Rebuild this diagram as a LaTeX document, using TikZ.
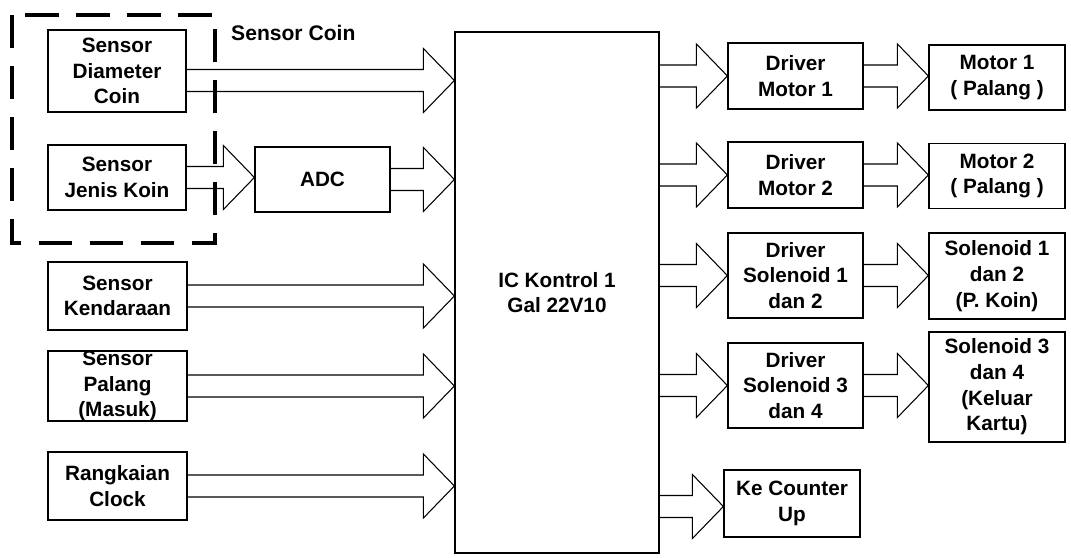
\documentclass[tikz,border=0pt]{standalone}
\usepackage{fontspec}
\setmainfont{Liberation Sans}
\usepackage{tikz}
\usetikzlibrary{calc}

\newcommand{\fatarrow}[2]{%
  \draw[fat] let \p1=(#1), \p2=(#2) in
    (\x1,\y1+0.22cm) -- (\x2-0.62cm,\y1+0.22cm) -- (\x2-0.62cm,\y1+0.64cm)
    -- (\x2,\y1) -- (\x2-0.62cm,\y1-0.64cm) -- (\x2-0.62cm,\y1-0.22cm) -- (\x1,\y1-0.22cm);}

\begin{document}
\begin{tikzpicture}[
  box/.style={draw, line width=0.7pt, inner sep=0pt, align=center,
    font=\fontsize{11.8}{14.6}\selectfont\bfseries},
  fat/.style={draw, line width=0.6pt}]
\useasboundingbox (0,0) rectangle (21.42,11.14);

\draw[line width=2.8pt, dash pattern=on 19pt off 10pt] (0.24,10.84) rectangle (4.30,6.28);
\node[anchor=west, font=\fontsize{12}{14}\selectfont\bfseries] (coin) at (4.50,10.48) {Sensor Coin};

\node[box, minimum width=2.76cm, minimum height=1.64cm] (dia) at (2.34,9.72) {Sensor\\Diameter\\Coin};
\node[box, minimum width=2.76cm, minimum height=1.30cm] (jenis) at (2.34,7.59) {Sensor\\Jenis Koin};
\node[box, minimum width=2.70cm, minimum height=1.30cm] (adc) at (6.45,7.55) {ADC};
\node[box, minimum width=2.78cm, minimum height=1.36cm] (kend) at (2.35,5.22) {Sensor\\Kendaraan};
\node[box, minimum width=2.78cm, minimum height=1.36cm] (palang) at (2.35,3.42) {Sensor\\Palang\\(Masuk)};
\node[box, minimum width=2.78cm, minimum height=1.36cm] (clock) at (2.35,1.42) {Rangkaian\\Clock};

\node[box, minimum width=4.08cm, minimum height=10.42cm] (ic) at (11.14,5.29) {IC Kontrol 1\\Gal 22V10};

\node[box, minimum width=2.70cm, minimum height=1.32cm] (drv1) at (15.91,9.62) {Driver\\Motor 1};
\node[box, minimum width=2.70cm, minimum height=1.32cm] (drv2) at (15.91,7.64) {Driver\\Motor 2};
\node[box, minimum width=2.70cm, minimum height=1.70cm] (drv3) at (15.91,5.63) {Driver\\Solenoid 1\\dan 2};
\node[box, minimum width=2.70cm, minimum height=1.70cm] (drv4) at (15.91,3.43) {Driver\\Solenoid 3\\dan 4};
\node[box, minimum width=2.72cm, minimum height=1.34cm] (count) at (15.84,1.07) {Ke Counter\\Up};

\node[box, minimum width=2.72cm, minimum height=1.30cm] (mot1) at (19.94,9.59) {Motor 1\\( Palang )};
\node[box, minimum width=2.72cm, minimum height=1.30cm] (mot2) at (19.94,7.62) {Motor 2\\( Palang )};
\node[box, minimum width=2.72cm, minimum height=1.72cm] (sol12) at (19.94,5.62) {Solenoid 1\\dan 2\\(P. Koin)};
\node[box, minimum width=2.72cm, minimum height=2.20cm] (sol34) at (19.94,3.40) {Solenoid 3\\dan 4\\(Keluar\\Kartu)};

\fatarrow{[yshift=-0.19cm]dia.east}{ic.west}
\fatarrow{jenis.east}{adc.west}
\fatarrow{adc.east}{ic.west}
\fatarrow{kend.east}{ic.west}
\fatarrow{palang.east}{ic.west}
\fatarrow{clock.east}{ic.west}

\fatarrow{ic.east |- drv1.west}{drv1.west}
\fatarrow{ic.east |- drv2.west}{drv2.west}
\fatarrow{ic.east |- drv3.west}{drv3.west}
\fatarrow{ic.east |- drv4.west}{drv4.west}
\fatarrow{[yshift=-0.06cm]ic.east |- count.west}{count.west}

\fatarrow{drv1.east}{mot1.west}
\fatarrow{drv2.east}{mot2.west}
\fatarrow{drv3.east}{sol12.west}
\fatarrow{drv4.east}{sol34.west}
\end{tikzpicture}
\end{document}
